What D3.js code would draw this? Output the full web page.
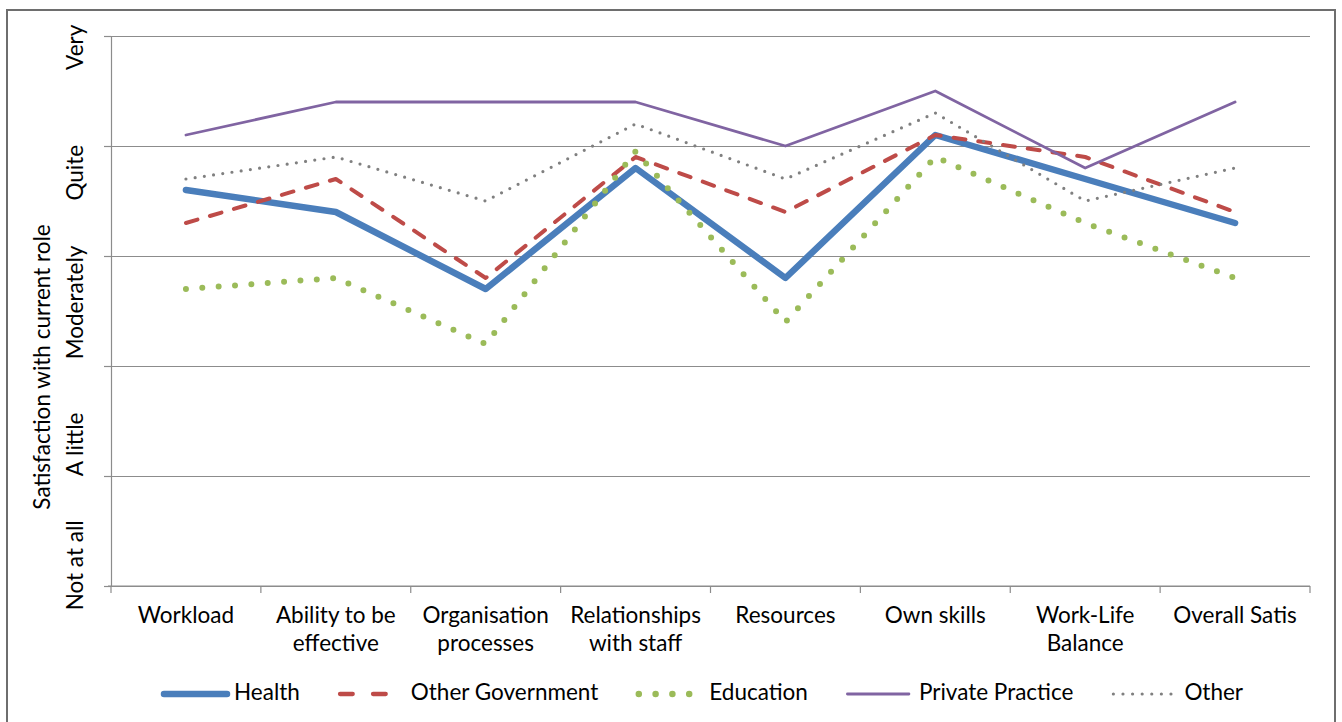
<!DOCTYPE html>
<html>
<head>
<meta charset="utf-8">
<script src="https://cdn.jsdelivr.net/npm/d3@7"></script>
<style>
  html, body { margin: 0; padding: 0; background: #fff; }
  svg { display: block; }
  text { font-family: Lato, "Open Sans", sans-serif; fill: #000; }
</style>
</head>
<body>
<svg id="chart" width="1342" height="722"></svg>
<script>
// ---------- data ----------
const categories = ["Workload", "Ability to be effective", "Organisation processes",
  "Relationships with staff", "Resources", "Own skills", "Work-Life Balance", "Overall Satis"];
const categoryLines = [["Workload"], ["Ability to be", "effective"], ["Organisation", "processes"],
  ["Relationships", "with staff"], ["Resources"], ["Own skills"], ["Work-Life", "Balance"], ["Overall Satis"]];

const health          = [3.6, 3.4, 2.7, 3.8, 2.8, 4.1, 3.7, 3.3];
const otherGovernment = [3.3, 3.7, 2.8, 3.9, 3.4, 4.1, 3.9, 3.4];
const education       = [2.7, 2.8, 2.2, 3.95, 2.4, 3.9, 3.3, 2.8];
const privatePractice = [4.1, 4.4, 4.4, 4.4, 4.0, 4.5, 3.8, 4.4];
const other           = [3.7, 3.9, 3.5, 4.2, 3.7, 4.3, 3.5, 3.8];

const seriesNames = ["Health", "Other Government", "Education", "Private Practice", "Other"];
const yTickValues = [0, 1, 2, 3, 4, 5];
const yTickLabels = ["Not at all", "A little", "Moderately", "Quite", "Very"];
const yLabelAt    = [0.16, 1.26, 2.55, 3.73, 4.87];
const yTitle = "Satisfaction with current role";

// ---------- styles ----------
const styles = [
  { color: "#4A7EBB", width: 6.5, dash: null,     legDash: null,        legFrom: 3,   legTo: 66 },
  { color: "#BE4B48", width: 4,   dash: "12 13",  legDash: "12.7 20.3", legFrom: 2.2, legTo: 60 },
  { color: "#9BBB59", width: 6,   dash: "0 16.4", legDash: "0 16.8",    legFrom: 2.5, legTo: 54 },
  { color: "#8064A2", width: 2.8, dash: null,     legDash: null,        legFrom: 1.5, legTo: 63 },
  { color: "#808080", width: 3.2, dash: "0 9.3",  legDash: "0 9.6",     legFrom: 2,   legTo: 60 }
];
const seriesData = [health, otherGovernment, education, privatePractice, other];

// ---------- layout ----------
const svg = d3.select("#chart");
const plot = { left: 111, right: 1310, top: 36, bottom: 586 };
const FONT = 22.5;

// outer border
svg.append("rect").attr("x", 7).attr("y", 10).attr("width", 1328).attr("height", 730)
  .attr("fill", "none").attr("stroke", "#6e6e6e").attr("stroke-width", 2);

const x = d3.scaleBand().domain(categories).range([plot.left, plot.right]).padding(0);
const xc = c => x(c) + x.bandwidth() / 2;
const y = d3.scaleLinear().domain([0, 5]).range([plot.bottom, plot.top]);

// gridlines
svg.append("g").attr("transform", `translate(${plot.left},0)`)
  .call(d3.axisLeft(y).tickValues(yTickValues).tickSize(-(plot.right - plot.left)).tickFormat(""))
  .call(g => g.select(".domain").remove())
  .call(g => g.selectAll(".tick line").attr("stroke", "#8c8c8c").attr("stroke-width", 1.2));

// y axis with small ticks
svg.append("g").attr("transform", `translate(${plot.left},0)`)
  .call(d3.axisLeft(y).tickValues(yTickValues).tickSize(7).tickSizeOuter(0).tickFormat(""))
  .call(g => g.select(".domain").attr("stroke", "#8c8c8c").attr("stroke-width", 1.2))
  .call(g => g.selectAll(".tick line").attr("stroke", "#8c8c8c").attr("stroke-width", 1.2));

// x axis line and boundary ticks
const xAxisG = svg.append("g");
xAxisG.append("line").attr("x1", plot.left - 3).attr("x2", plot.right)
  .attr("y1", y(0)).attr("y2", y(0)).attr("stroke", "#8c8c8c").attr("stroke-width", 1.2);
const boundaries = categories.map(c => x(c)).concat([x(categories[categories.length - 1]) + x.bandwidth()]);
xAxisG.selectAll("line.b").data(boundaries).enter().append("line").attr("class", "b")
  .attr("x1", d => d).attr("x2", d => d).attr("y1", y(0)).attr("y2", y(0) + 7)
  .attr("stroke", "#8c8c8c").attr("stroke-width", 1.2);

// category labels
const catG = svg.append("g");
categories.forEach((c, i) => {
  const t = catG.append("text").attr("x", xc(c)).attr("y", y(0) + 37)
    .attr("text-anchor", "middle").attr("font-size", FONT);
  categoryLines[i].forEach((ln, j) => {
    t.append("tspan").attr("x", xc(c)).attr("dy", j === 0 ? 0 : 28).text(ln);
  });
});

// y tick labels (rotated)
yTickLabels.forEach((lab, i) => {
  svg.append("text")
    .attr("transform", `translate(83,${y(yLabelAt[i]) - 3}) rotate(-90)`)
    .attr("text-anchor", "middle").attr("font-size", FONT).text(lab);
});

// y title
svg.append("text")
  .attr("transform", `translate(50,367) rotate(-90)`)
  .attr("text-anchor", "middle").attr("font-size", FONT).text(yTitle);

// lines
const line = d3.line().x((d, i) => xc(categories[i])).y(d => y(d));
seriesData.forEach((s, k) => {
  const st = styles[k];
  svg.append("path").datum(s).attr("d", line)
    .attr("fill", "none").attr("stroke", st.color).attr("stroke-width", st.width)
    .attr("stroke-linejoin", "round").attr("stroke-linecap", "round")
    .attr("stroke-dasharray", st.dash);
});

// legend
const legend = svg.append("g");
let lx = 161;
const ly = 694;
seriesNames.forEach((name, k) => {
  const st = styles[k];
  legend.append("line").attr("x1", lx + st.legFrom).attr("x2", lx + st.legTo).attr("y1", ly).attr("y2", ly)
    .attr("stroke", st.color).attr("stroke-width", k === 1 ? 4.3 : (k === 2 ? 6.5 : st.width))
    .attr("stroke-linecap", "round").attr("stroke-dasharray", st.legDash);
  const t = legend.append("text").attr("x", lx + 73).attr("y", ly + 6)
    .attr("font-size", FONT).text(name);
  lx += 73 + t.node().getComputedTextLength() + 38;
});
</script>
</body>
</html>
